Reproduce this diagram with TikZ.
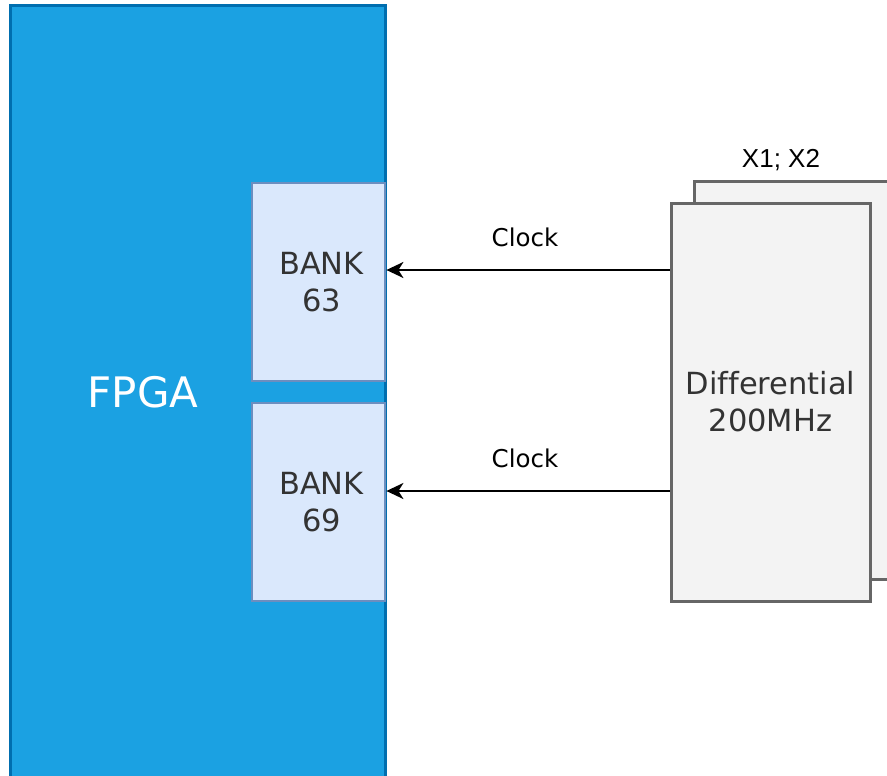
\documentclass[tikz,border=0pt]{standalone}
\usepackage{fontspec}
\setmainfont[Ligatures={NoCommon}]{DejaVu Sans}
\newfontfamily\arialfont{Liberation Sans}
\usetikzlibrary{arrows.meta}
\definecolor{fpgafill}{HTML}{1BA1E2}
\definecolor{fpgaline}{HTML}{006EAF}
\definecolor{bankfill}{HTML}{DAE8FC}
\definecolor{bankline}{HTML}{6C8EBF}
\definecolor{oscfill}{HTML}{F3F3F3}
\definecolor{oscline}{HTML}{666666}
\definecolor{txt}{HTML}{333333}
\tikzset{
  fpgabox/.style={draw=fpgaline, fill=fpgafill, line width=3pt, inner sep=0pt},
  bankbox/.style={draw=bankline, fill=bankfill, line width=2.8pt, inner sep=0pt,
    text=txt, font=\fontsize{30.5}{37}\selectfont, align=center},
  oscbox/.style={draw=oscline, fill=oscfill, line width=3pt, inner sep=0pt,
    text=txt, font=\fontsize{30.5}{37}\selectfont, align=center},
  clk/.style={line width=2.2pt, -{Stealth[length=17pt,width=16pt,inset=5pt]}},
  clklabel/.style={font=\fontsize{24.5}{28}\selectfont, text=black, inner sep=0pt},
}
\begin{document}
\begin{tikzpicture}[x=1pt,y=-1pt]
\useasboundingbox (0,0) rectangle (887,776);
\clip (0,0) rectangle (887,776);
% FPGA body (runs past the lower edge)
\node[fpgabox, minimum width=375pt, minimum height=800pt] (fpga) at (197.5,406) {};
\node[text=white, font=\fontsize{42}{48}\selectfont] (fpgatext) at (143,392) {FPGA};
% I/O banks
\node[bankbox, minimum width=133pt, minimum height=198pt] (bank63) at (318.5,282) {\hspace*{6pt}BANK\\\hspace*{6pt}63};
\node[bankbox, minimum width=133pt, minimum height=198pt] (bank69) at (318.5,502) {\hspace*{6pt}BANK\\\hspace*{6pt}69};
% oscillators: stacked boxes for X1 and X2
\node[oscbox, minimum width=220pt, minimum height=398pt] (oscback) at (804,380) {};
\node[oscbox, minimum width=199pt, minimum height=398pt] (osc) at (770.5,402) {Differential\\200MHz};
\node[font=\arialfont\fontsize{26}{30}\selectfont, text=black, inner sep=0pt] (oscname) at (781,160) {X1; X2};
% clock connections
\draw[clk] (osc.west |- 0,270) -- (bank63.east |- 0,270);
\draw[clk] (osc.west |- 0,491) -- (bank69.east |- 0,491);
\node[clklabel] (clk63) at (525,237) {Clock};
\node[clklabel] (clk69) at (525,458) {Clock};
\end{tikzpicture}
\end{document}
